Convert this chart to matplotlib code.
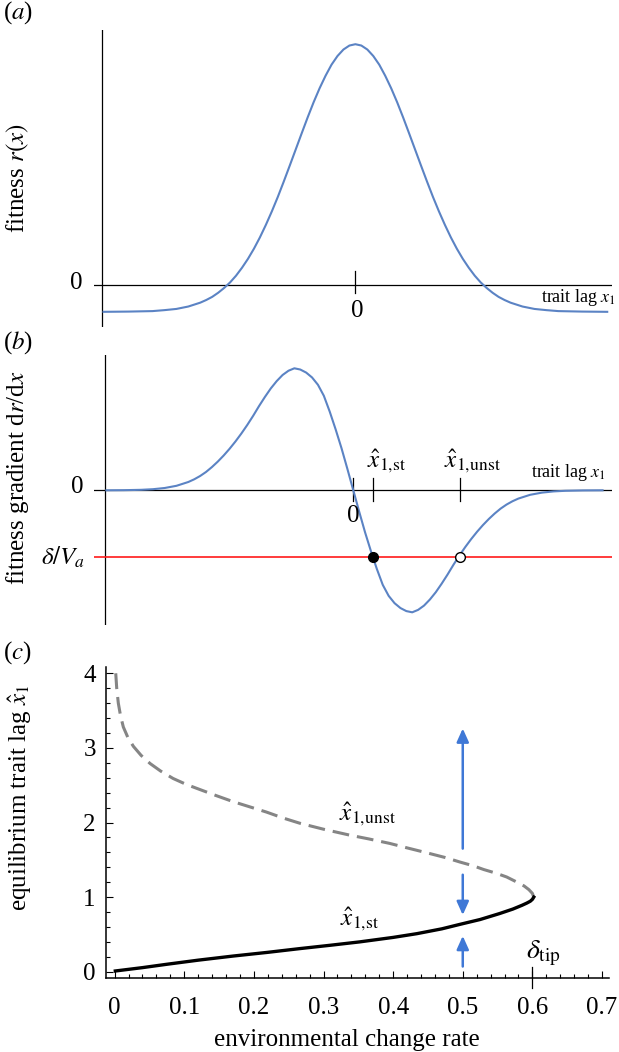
import matplotlib
matplotlib.use('Agg')
import matplotlib.pyplot as plt
from matplotlib.ticker import MultipleLocator, FixedLocator

plt.rcParams['font.family'] = ['Liberation Serif', 'DejaVu Serif']
plt.rcParams['mathtext.fontset'] = 'stix'

# ---------------- data ----------------
# panel (a): fitness r(x) vs trait lag (peak normalised to 1)
lag_a = [-4.22, -3.8, -3.6, -3.4, -3.2, -3.0, -2.8, -2.6, -2.5, -2.4, -2.3, -2.2, -2.1,
         -2.0, -1.9, -1.8, -1.7, -1.6, -1.5, -1.4, -1.3, -1.2, -1.1, -1.0, -0.9, -0.8,
         -0.7, -0.6, -0.5, -0.4, -0.3, -0.2, -0.1, 0.0, 0.1, 0.2, 0.3, 0.4, 0.5, 0.6,
         0.7, 0.8, 0.9, 1.0, 1.1, 1.2, 1.3, 1.4, 1.5, 1.6, 1.7, 1.8, 1.9, 2.0, 2.1, 2.2,
         2.3, 2.4, 2.5, 2.6, 2.8, 3.0, 3.2, 3.4, 3.6, 3.8, 4.22]
fitness_a = [-0.111, -0.110, -0.109, -0.108, -0.104, -0.099, -0.089, -0.073, -0.062,
             -0.049, -0.032, -0.012, 0.011, 0.039, 0.072, 0.109, 0.151, 0.198, 0.250,
             0.306, 0.366, 0.430, 0.496, 0.563, 0.630, 0.696, 0.759, 0.817, 0.869,
             0.915, 0.951, 0.978, 0.9945, 1.0, 0.9945, 0.978, 0.951, 0.915, 0.869,
             0.817, 0.759, 0.696, 0.630, 0.563, 0.496, 0.430, 0.366, 0.306, 0.250,
             0.198, 0.151, 0.109, 0.072, 0.039, 0.011, -0.012, -0.032, -0.049, -0.062,
             -0.073, -0.089, -0.099, -0.104, -0.108, -0.109, -0.110, -0.111]

# panel (b): fitness gradient dr/dx vs trait lag
lag_b = [-4.19, -3.9, -3.6, -3.4, -3.2, -3.0, -2.8, -2.7, -2.6, -2.5, -2.4, -2.3, -2.2,
         -2.1, -2.0, -1.9, -1.8, -1.7, -1.6, -1.5, -1.4, -1.3, -1.2, -1.1, -1.0, -0.9,
         -0.8, -0.7, -0.6, -0.5, -0.4, -0.3, -0.2, -0.1, 0.0, 0.1, 0.2, 0.3, 0.4, 0.5,
         0.6, 0.7, 0.8, 0.9, 1.0, 1.1, 1.2, 1.3, 1.4, 1.5, 1.6, 1.7, 1.8, 1.9, 2.0,
         2.1, 2.2, 2.3, 2.4, 2.5, 2.6, 2.7, 2.8, 3.0, 3.2, 3.4, 3.6, 3.9, 4.23]
grad_b = [0.0, 0.001, 0.004, 0.009, 0.019, 0.037, 0.068, 0.09, 0.117, 0.15, 0.19, 0.235,
          0.285, 0.34, 0.40, 0.465, 0.535, 0.61, 0.69, 0.765, 0.835, 0.895, 0.945, 0.98,
          1.0, 0.99, 0.965, 0.925, 0.865, 0.775, 0.645, 0.50, 0.345, 0.175, 0.0, -0.175,
          -0.345, -0.50, -0.645, -0.775, -0.865, -0.925, -0.965, -0.99, -1.0, -0.98,
          -0.945, -0.895, -0.835, -0.765, -0.69, -0.61, -0.535, -0.465, -0.40, -0.34,
          -0.285, -0.235, -0.19, -0.15, -0.117, -0.09, -0.068, -0.037, -0.019, -0.009,
          -0.004, -0.001, 0.0]
delta_over_Va = -0.544
x_st, x_unst = 0.335, 1.81

# panel (c): equilibrium trait lag vs environmental change rate
rate_stable = [0.001, 0.04, 0.075, 0.12, 0.17, 0.22, 0.266, 0.31, 0.352, 0.40, 0.434,
               0.47, 0.496, 0.525, 0.553, 0.572, 0.585, 0.592, 0.597, 0.600, 0.602]
lag_stable = [0.01, 0.055, 0.10, 0.155, 0.21, 0.26, 0.31, 0.355, 0.40, 0.46, 0.51,
              0.575, 0.635, 0.70, 0.78, 0.84, 0.89, 0.92, 0.945, 0.97, 1.0]
rate_unstable = [0.602, 0.600, 0.595, 0.588, 0.578, 0.563, 0.548, 0.53, 0.515, 0.496,
                 0.475, 0.45, 0.42, 0.395, 0.365, 0.338, 0.30, 0.266, 0.242, 0.218,
                 0.194, 0.17, 0.146, 0.123, 0.103, 0.084, 0.066, 0.051, 0.038, 0.027,
                 0.019, 0.0125, 0.0085, 0.0053, 0.003, 0.0016]
lag_unstable = [1.0, 1.05, 1.10, 1.15, 1.2, 1.27, 1.32, 1.37, 1.42, 1.47, 1.53, 1.59,
                1.66, 1.72, 1.78, 1.83, 1.91, 1.99, 2.06, 2.14, 2.21, 2.28, 2.36, 2.44,
                2.51, 2.59, 2.69, 2.79, 2.90, 3.02, 3.14, 3.28, 3.43, 3.6, 3.8, 4.0]
delta_tip = 0.6
arrow_rate = 0.5
arrow_segments = [(1.65, 3.26), (1.30, 0.76), (0.07, 0.48)]  # (start, head)
xtick_vals = [0, 0.1, 0.2, 0.3, 0.4, 0.5, 0.6, 0.7]
xtick_labels = ['0', '0.1', '0.2', '0.3', '0.4', '0.5', '0.6', '0.7']
ytick_vals = [0, 1, 2, 3, 4]
ytick_labels = ['0', '1', '2', '3', '4']

# ---------------- figure ----------------
W, H = 619, 1052
BLUE = '#5b83c4'
ARROW = '#3f78d6'
FS = 18

fig = plt.figure(figsize=(W / 100, H / 100), dpi=100)


def box(x0, y0, x1, y1):
    return [x0 / W, 1 - y1 / H, (x1 - x0) / W, (y1 - y0) / H]


def ftext(x, y, s, **kw):
    kw.setdefault('fontsize', FS)
    kw.setdefault('ha', 'center')
    kw.setdefault('va', 'center')
    fig.text(x / W, 1 - y / H, s, **kw)


# ----- panel (a) -----
axa = fig.add_axes(box(94, 30, 612, 327))
axa.set_xlim(-4.38, 4.30)
axa.set_ylim(-0.174, 1.059)
axa.axis('off')
axa.axhline(0, color='black', lw=0.9)
axa.axvline(-4.25, color='black', lw=0.9)
axa.plot([0, 0], [-0.032, 0.059], color='black', lw=0.9)
axa.plot(lag_a, fitness_a, color=BLUE, lw=1.5)

ftext(17.8, 13, '($a$)')
ftext(17.8, 178, 'fitness $r(x)$', rotation=90)
ftext(76, 283, '0')
ftext(357.7, 311, '0')
ftext(616, 297, 'trait lag $x_1$', fontsize=13, ha='right')

# ----- panel (b) -----
axb = fig.add_axes(box(94, 355, 612, 625))
axb.set_xlim(-4.40, 4.39)
axb.set_ylim(-1.104, 1.109)
axb.axis('off')
axb.axhline(0, color='black', lw=0.9)
axb.axvline(-4.22, color='black', lw=0.9)
axb.axhline(delta_over_Va, color='#ff1a1a', lw=1.2)
for xt in [0.0, x_st, x_unst]:
    axb.plot([xt, xt], [-0.085, 0.098], color='black', lw=0.9)
axb.plot(lag_b, grad_b, color=BLUE, lw=1.5)
axb.plot([x_st], [delta_over_Va], 'o', ms=7, mfc='black', mec='black', zorder=5)
axb.plot([x_unst], [delta_over_Va], 'o', ms=7, mfc='white', mec='black', mew=1.0, zorder=5)

ftext(17.8, 343, '($b$)')
ftext(17.8, 478, 'fitness gradient d$r$/d$x$', rotation=90)
ftext(77, 487, '0')
ftext(63, 557, r'$\delta/V_a$')
ftext(353, 516, '0')
ftext(387, 461, r'$\hat{x}_{1,\!\mathrm{st}}$')
ftext(472, 461, r'$\hat{x}_{1,\!\mathrm{unst}}$')
ftext(606, 472, 'trait lag $x_1$', fontsize=13, ha='right')

# ----- panel (c) -----
axc = fig.add_axes(box(105.5, 667.3, 608.7, 977.7))
axc.set_xlim(-0.0131, 0.7096)
axc.set_ylim(-0.080, 4.08)
for s in ['top', 'right']:
    axc.spines[s].set_visible(False)
for s in ['left', 'bottom']:
    axc.spines[s].set_linewidth(1.1)
axc.xaxis.set_major_locator(FixedLocator(xtick_vals))
axc.set_xticklabels(xtick_labels)
axc.xaxis.set_minor_locator(MultipleLocator(0.02))
axc.yaxis.set_major_locator(FixedLocator(ytick_vals))
axc.set_yticklabels(ytick_labels)
axc.yaxis.set_minor_locator(MultipleLocator(0.2))
axc.tick_params(which='both', direction='in', width=0.8, labelsize=FS)
axc.tick_params(which='major', length=5)
axc.tick_params(which='minor', length=3)
axc.tick_params(axis='x', which='both', pad=14)
axc.tick_params(axis='y', which='both', pad=7)

axc.plot(rate_unstable, lag_unstable, color='#858585', lw=2.2,
         ls=(0, (5.5, 2.6)), solid_capstyle='butt')
axc.plot(rate_stable, lag_stable, color='black', lw=2.4)
axc.plot([delta_tip, delta_tip], [-0.218, 0.063], color='black', lw=0.9, clip_on=False)
for y0, y1 in arrow_segments:
    axc.annotate('', xy=(arrow_rate, y1), xytext=(arrow_rate, y0),
                 arrowprops=dict(arrowstyle='-|>,head_length=0.4,head_width=0.18',
                                 mutation_scale=20, lw=1.8, color=ARROW,
                                 shrinkA=0, shrinkB=0))

ftext(17.8, 653, '($c$)')
ftext(19.8, 798, r'equilibrium trait lag $\hat{x}_1$', rotation=90)
ftext(346.6, 1040, 'environmental change rate')
ftext(367, 814, r'$\hat{x}_{1,\!\mathrm{unst}}$')
ftext(359.5, 919, r'$\hat{x}_{1,\!\mathrm{st}}$')
ftext(526, 953, r'$\delta_{\mathrm{tip}}$', ha='left', fontsize=20)

fig.savefig('out.png', dpi=100)
